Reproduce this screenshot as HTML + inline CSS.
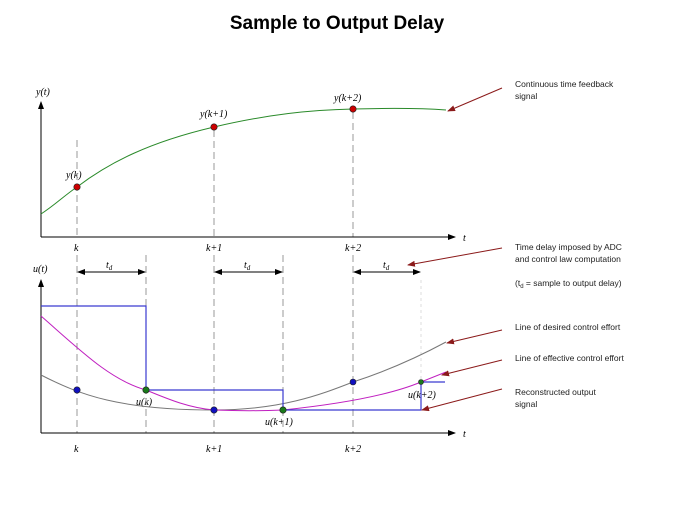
<!DOCTYPE html>
<html><head><style>body{margin:0;background:#fff}svg{display:block}</style></head><body>
<svg width="674" height="506" xmlns="http://www.w3.org/2000/svg">
<defs><marker id="a" markerWidth="8" markerHeight="6" refX="7" refY="3" orient="auto-start-reverse"><path d="M0,0L8,3L0,6z" fill="#000"/></marker>
<marker id="r" markerWidth="8" markerHeight="6" refX="7" refY="3" orient="auto"><path d="M0,0L8,3L0,6z" fill="#8b1a1a"/></marker></defs>
<text x="337" y="29" text-anchor="middle" font-family="Liberation Sans,sans-serif" font-weight="bold" font-size="19">Sample to Output Delay</text>
<g font-family="Liberation Serif,serif" font-style="italic" font-size="10">
<text x="36" y="95">y(t)</text><text x="463" y="241">t</text>
<text x="66" y="178">y(k)</text><text x="200" y="117">y(k+1)</text><text x="334" y="101">y(k+2)</text>
<text x="74" y="251">k</text><text x="206" y="251">k+1</text><text x="345" y="251">k+2</text>
<text x="33" y="272">u(t)</text><text x="463" y="437">t</text>
<text x="74" y="452">k</text><text x="206" y="452">k+1</text><text x="345" y="452">k+2</text>
<text x="136" y="405">u(k)</text><text x="265" y="425">u(k+1)</text><text x="408" y="398">u(k+2)</text>
<text x="106" y="268">t<tspan font-size="7" dy="2">d</tspan></text><text x="244" y="268">t<tspan font-size="7" dy="2">d</tspan></text><text x="383" y="268">t<tspan font-size="7" dy="2">d</tspan></text>
</g>
<g stroke="#999" stroke-dasharray="7,4" stroke-width="1">
<path d="M77,140V237M214,130V237M353,112V237"/>
<path d="M77,255V433M146,255V433M214,255V433M283,255V433M353,255V433"/>
</g>
<path d="M421,280V410" stroke="#ddd" stroke-dasharray="3,3"/>
<g stroke="#000" stroke-width="1" fill="none">
<path d="M41,237V102" marker-end="url(#a)"/><path d="M41,237H455" marker-end="url(#a)"/>
<path d="M41,433V280" marker-end="url(#a)"/><path d="M41,433H455" marker-end="url(#a)"/>
<path d="M78,272H145" marker-end="url(#a)" marker-start="url(#a)"/>
<path d="M215,272H282" marker-end="url(#a)" marker-start="url(#a)"/>
<path d="M354,272H420" marker-end="url(#a)" marker-start="url(#a)"/>
</g>
<path d="M41,214C55,205 65,195 77,187C110,162 150,142 214,127C270,114 310,110 353,109C390,108 420,108 446,110" stroke="#2a8a2a" fill="none"/>
<path d="M41,375C80,395 120,410 214,410C280,410 320,395 353,382C390,370 420,356 446,342" stroke="#777" fill="none"/>
<path d="M41,316C80,350 110,380 146,390C170,400 190,408 214,410C240,411 260,411 283,410C340,404 390,395 421,382L446,372" stroke="#c020c0" fill="none"/>
<path d="M41,306H146V390H283V410H421V382H445" stroke="#3a3ad0" fill="none" stroke-width="1.2"/>
<g stroke="#222" stroke-width="0.6"><circle cx="77" cy="187" r="3.2" fill="#c00"/><circle cx="214" cy="127" r="3.2" fill="#c00"/><circle cx="353" cy="109" r="3.2" fill="#c00"/>
<circle cx="77" cy="390" r="3.2" fill="#1010c0"/><circle cx="214" cy="410" r="3.2" fill="#1010c0"/><circle cx="353" cy="382" r="3" fill="#1010c0"/>
<circle cx="146" cy="390" r="3.2" fill="#1a7a1a"/><circle cx="283" cy="410" r="3.2" fill="#1a7a1a"/><circle cx="421" cy="382" r="2.5" fill="#1a7a1a"/></g>
<g stroke="#8b1a1a" stroke-width="1" fill="none">
<path d="M502,88L448,111" marker-end="url(#r)"/><path d="M502,248L408,265" marker-end="url(#r)"/>
<path d="M502,330L447,343" marker-end="url(#r)"/><path d="M502,360L442,375" marker-end="url(#r)"/>
<path d="M502,389L422,410" marker-end="url(#r)"/></g>
<g font-family="Liberation Sans,sans-serif" font-size="8.5" fill="#222">
<text x="515" y="87">Continuous time feedback</text><text x="515" y="99">signal</text>
<text x="515" y="250">Time delay imposed by ADC</text><text x="515" y="262">and control law computation</text>
<text x="515" y="286">(t<tspan font-size="6" dy="2">d</tspan><tspan dy="-2"> = sample to output delay)</tspan></text>
<text x="515" y="330">Line of desired control effort</text><text x="515" y="361">Line of effective control effort</text>
<text x="515" y="395">Reconstructed output</text><text x="515" y="407">signal</text>
</g>
</svg>
</body></html>
